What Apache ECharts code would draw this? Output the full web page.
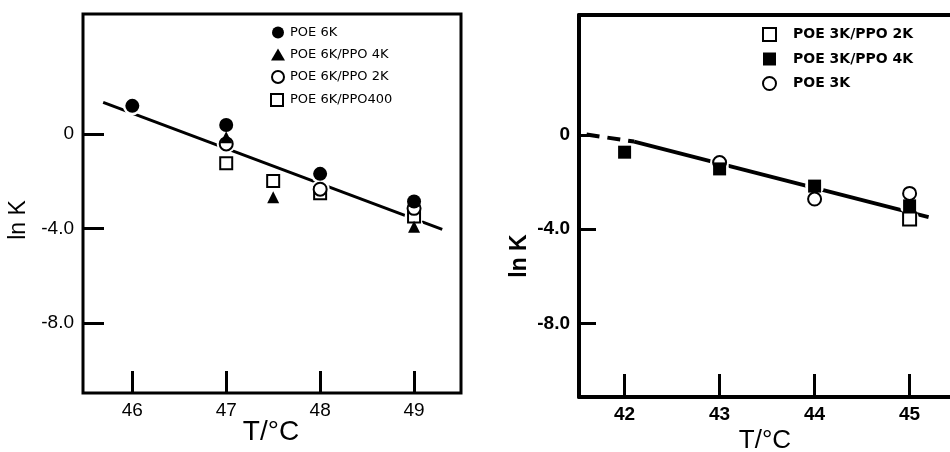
<!DOCTYPE html>
<html><head><meta charset="utf-8">
<script src="https://cdn.jsdelivr.net/npm/echarts@6/dist/echarts.min.js"></script>
<style>html,body{margin:0;padding:0;background:#fff}#c{width:950px;height:452px}</style>
</head><body><div id="c"></div>
<script>
// ---- Left panel: POE 6K systems ----
const leftXTicks = [46, 47, 48, 49];
const leftYTicks = [0, -4, -8];
const poe6k       = [[46, 1.19], [47, 0.38], [48, -1.69], [49, -2.86]];
const poe6kPpo4k  = [[47, -0.14], [47.5, -2.68], [49, -3.93]];
const poe6kPpo2k  = [[47, -0.42], [48, -2.34], [49, -3.15]];
const poe6kPpo400 = [[47, -1.24], [47.5, -1.99], [48, -2.51], [49, -3.5]];
const leftFit     = [[45.69, 1.34], [49.30, -4.04]];
const leftNames   = ['POE 6K', 'POE 6K/PPO 4K', 'POE 6K/PPO 2K', 'POE 6K/PPO400'];

// ---- Right panel: POE 3K systems ----
const rightXTicks = [42, 43, 44, 45];
const rightYTicks = [0, -4, -8];
const poe3kPpo2k  = [[45, -3.57]];
const poe3kPpo4k  = [[42, -0.73], [43, -1.44], [44, -2.17], [45, -3.01]];
const poe3k       = [[43, -1.17], [44, -2.72], [45, -2.48]];
const rightFitDash = [[41.6, 0.02], [42.1, -0.28]];
const rightFit     = [[42.1, -0.28], [45.2, -3.49]];
const rightNames  = ['POE 3K/PPO 2K', 'POE 3K/PPO 4K', 'POE 3K'];

const axisTitle = 'T/°C';

const chart = echarts.init(document.getElementById('c'), null, {renderer: 'canvas'});
const yFmt = v => v === 0 ? '0' : v.toFixed(1);
const FF = '"Liberation Sans", Arial, sans-serif';

function xAxis(gi, min, max, ticks, bold, tickLen, lineW) {
  return {
    gridIndex: gi, type: 'value', min: min, max: max, position: 'bottom',
    axisLine: {show: lineW > 0, onZero: false, lineStyle: {color: '#000', width: lineW}},
    splitLine: {show: false},
    axisTick: {show: true, inside: true, length: tickLen, customValues: ticks,
               lineStyle: {color: '#000', width: 3}},
    axisLabel: {customValues: ticks, color: '#000', fontSize: 19, margin: 8,
                fontFamily: FF, fontWeight: bold ? 'bold' : 'normal'}
  };
}
function yAxis(gi, min, max, ticks, bold, tickLen, lineW) {
  return {
    gridIndex: gi, type: 'value', min: min, max: max, position: 'left',
    axisLine: {show: lineW > 0, onZero: false, lineStyle: {color: '#000', width: lineW}},
    splitLine: {show: false},
    axisTick: {show: true, inside: true, length: tickLen, customValues: ticks,
               lineStyle: {color: '#000', width: 3}},
    axisLabel: {customValues: ticks, formatter: yFmt, color: '#000', fontSize: 19, margin: 9,
                fontFamily: FF, fontWeight: bold ? 'bold' : 'normal'}
  };
}
const filled = {color: '#000', opacity: 1};
const open = {color: '#fff', borderColor: '#000', borderWidth: 2, opacity: 1};
function sc(name, gi, data, symbol, size, style) {
  return {name: name, type: 'scatter', xAxisIndex: gi, yAxisIndex: gi, data: data,
          symbol: symbol, symbolSize: size, itemStyle: style, z: 4};
}
function halo(gi, data) {
  return {type: 'scatter', xAxisIndex: gi, yAxisIndex: gi, data: data, symbol: 'circle',
          symbolSize: 19, itemStyle: {color: '#fff', opacity: 1}, silent: true, z: 3};
}
function fit(gi, data, width, type) {
  return {type: 'line', xAxisIndex: gi, yAxisIndex: gi, data: data, showSymbol: false,
          symbol: 'none', silent: true, z: 2,
          lineStyle: {color: '#000', width: width, type: type, dashOffset: 0}};
}

const option = {
  animation: false,
  backgroundColor: '#fff',
  grid: [
    {left: 83, top: 14, width: 378, height: 379, show: true, borderColor: '#000', borderWidth: 3},
    {left: 579, top: 15, width: 371, height: 382, show: false}
  ],
  xAxis: [
    xAxis(0, 45.475, 49.5, leftXTicks, false, 22, 0),
    xAxis(1, 41.52, 41.52 + 371 / 95, rightXTicks, true, 23, 4),
    {gridIndex: 1, type: 'value', position: 'top', min: 41.52, max: 41.52 + 371 / 95,
     axisLine: {show: true, onZero: false, lineStyle: {color: '#000', width: 4}},
     axisTick: {show: false}, axisLabel: {show: false}, splitLine: {show: false}}
  ],
  yAxis: [
    yAxis(0, -10.97, 5.08, leftYTicks, false, 21, 0),
    yAxis(1, -11.125, 5.095, rightYTicks, true, 17, 4)
  ],
  legend: [
    {data: leftNames, orient: 'vertical', left: 265, top: 21, itemWidth: 14, itemHeight: 12,
     itemGap: 9, textStyle: {fontFamily: '"DejaVu Sans", sans-serif', fontSize: 13, color: '#000', lineHeight: 12}},
    {data: rightNames, orient: 'vertical', left: 757, top: 22, itemWidth: 13, itemHeight: 13,
     itemGap: 10, textStyle: {fontFamily: '"DejaVu Sans", sans-serif', fontSize: 14, fontWeight: 'bold', color: '#000',
       lineHeight: 13, padding: [0, 0, 0, 12]}}
  ],
  graphic: [
    {type: 'text', x: 271, y: 432, style: {text: axisTitle, font: '28px "Liberation Sans", Arial, sans-serif',
      fill: '#000', textAlign: 'center', textVerticalAlign: 'middle'}},
    {type: 'text', x: 765, y: 441, style: {text: axisTitle, font: '26px "Liberation Sans", Arial, sans-serif',
      fill: '#000', textAlign: 'center', textVerticalAlign: 'middle'}},
    {type: 'text', x: 19, y: 220, rotation: Math.PI / 2, style: {text: 'ln K',
      font: '23px "Liberation Sans", Arial, sans-serif', fill: '#000', textAlign: 'center', textVerticalAlign: 'middle'}},
    {type: 'text', x: 520, y: 256, rotation: Math.PI / 2, style: {text: 'ln K',
      font: 'bold 23px "Liberation Sans", Arial, sans-serif', fill: '#000', textAlign: 'center', textVerticalAlign: 'middle'}}
  ],
  series: [
    fit(0, leftFit, 3, 'solid'),
    fit(1, rightFit, 4, 'solid'),
    fit(1, rightFitDash, 4, [13, 8]),
    halo(0, poe6k.concat(poe6kPpo4k, poe6kPpo2k, poe6kPpo400)),
    halo(1, poe3k.concat(poe3kPpo4k, poe3kPpo2k)),
    sc(leftNames[3], 0, poe6kPpo400, 'square', 12, open),
    sc(leftNames[2], 0, poe6kPpo2k, 'circle', 13, open),
    sc(leftNames[1], 0, poe6kPpo4k, 'triangle', 12, filled),
    sc(leftNames[0], 0, poe6k, 'circle', 14, filled),
    sc(rightNames[0], 1, poe3kPpo2k, 'square', 13, open),
    sc(rightNames[2], 1, poe3k, 'circle', 13, open),
    sc(rightNames[1], 1, poe3kPpo4k, 'square', 13, filled)
  ]
};
chart.setOption(option);
</script></body></html>
